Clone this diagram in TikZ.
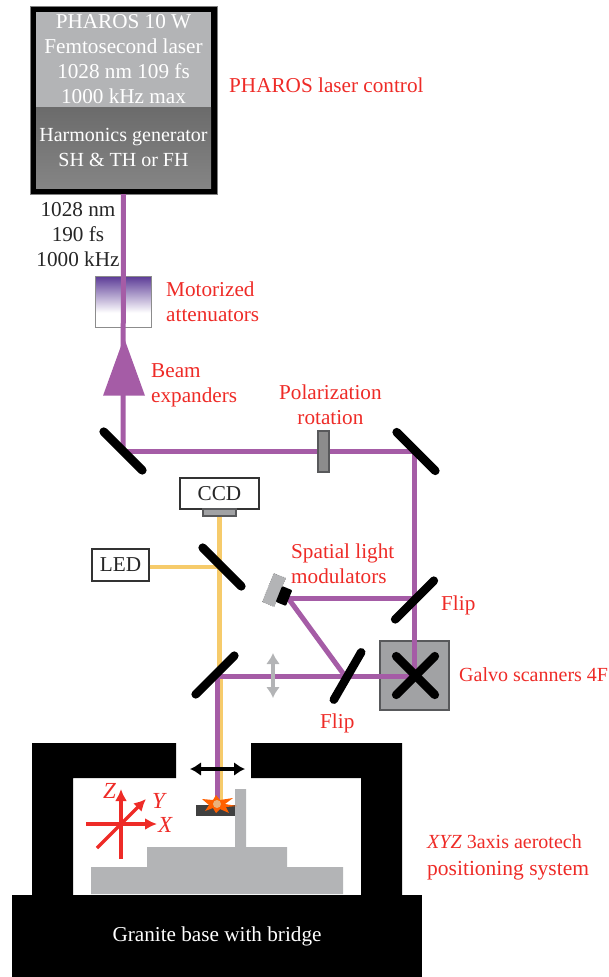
\documentclass[tikz,border=0pt]{standalone}
\usepackage{fontspec}
\setmainfont{Liberation Serif}
\usetikzlibrary{positioning, arrows.meta, shapes.geometric}
\definecolor{beampurple}{HTML}{A55CA6}
\definecolor{beamyellow}{HTML}{F6CB6B}
\definecolor{labelred}{HTML}{EE2B27}
\definecolor{stagegray}{HTML}{B3B4B6}
\definecolor{framegray}{HTML}{58595B}
\definecolor{attenpurple}{HTML}{5B3A96}
\pgfdeclareverticalshading{attenfade}{100bp}{color(0bp)=(white); color(39bp)=(white); color(75bp)=(attenpurple); color(100bp)=(attenpurple)}

\begin{document}
\begin{tikzpicture}[x=1pt, y=-1pt,
    every node/.style={font=\fontsize{21.2}{25}\selectfont, inner sep=0pt, text=black!85},
    lbl/.style={text=labelred, align=left, anchor=west},
    mirror/.style={rectangle, fill=black, rounded corners=4pt, minimum width=63, minimum height=8.5},
    beam/.style={draw=beampurple, line width=5pt},
    led/.style={draw=beamyellow, line width=4.5pt},
    box/.style={rectangle, draw=black!80, line width=1.2pt, fill=white, align=center},
    part/.style={rectangle, draw=framegray, line width=1.2pt, fill=stagegray!90!black},
    stage/.style={fill=stagegray},
    base/.style={fill=black},
    axis/.style={draw=labelred, line width=3.5pt, -{Latex[length=12pt, width=12pt]}},
    slide/.style={{Latex[length=11pt, width=14pt]}-{Latex[length=11pt, width=14pt]}, line width=3.5pt}]

  \useasboundingbox (0,0) rectangle (609,977);

  % stage and bridge
  \path[base] (32,743) -- (176,743) -- (176,778) -- (73,778) -- (73,895) -- (32,895) -- cycle;
  \path[base] (402,743) -- (251,743) -- (251,778) -- (361,778) -- (361,895) -- (402,895) -- cycle;
  \node[rectangle, fill=black, minimum width=410, minimum height=82, text=white] (granite) at (217,936) {Granite base with bridge};
  \path[stage] (91,894) -- (91,867) -- (147,867) -- (147,847) -- (235,847) -- (235,789) -- (246,789) -- (246,847) -- (287,847) -- (287,867) -- (343,867) -- (343,894) -- cycle;
  \node[rectangle, fill=black!75, minimum width=39, minimum height=11] (sample) at (215.5,810.5) {};

  % laser head
  \node[rectangle, fill=black, draw=black!50, minimum width=187, minimum height=188] (laser) at (123.5,100) {};
  \node[rectangle, fill=stagegray, minimum width=175, minimum height=95, text=white, align=center] (pharos) at (123.5,59.5) {PHAROS 10 W\\Femtosecond laser\\1028 nm 109 fs\\1000 kHz max};
  \node[rectangle, top color=black!58, bottom color=black!48, minimum width=175, minimum height=81, text=white, align=center, font=\fontsize{20}{25}\selectfont] (harm) at (123.5,147.5) {Harmonics generator\\SH \& TH or FH};

  \node[align=center] (pulse) at (78,235) {1028 nm\\190 fs\\1000 kHz};
  \node[rectangle, draw=black!45, line width=0.8pt, shading=attenfade, minimum width=56, minimum height=51] (atten) at (123,301.5) {};

  % optical path points
  \coordinate (m1) at (123,451);
  \coordinate (m2) at (414,451);
  \coordinate (flipa) at (414,598);
  \coordinate (galvoc) at (414,676);
  \coordinate (flipb) at (345,676);
  \coordinate (m3) at (217,676);
  \coordinate (m4) at (220,567);
  \coordinate (slmc) at (288,598);
  \coordinate (focus) at (217,803);
  \coordinate (focusb) at (221,803);

  \node[part, minimum width=69, minimum height=69] (galvo) at (414.5,675.5) {};
  \node[box, minimum width=79, minimum height=31] (ccd) at (219.5,493.5) {CCD};
  \node[part, minimum width=33, minimum height=7] (sensor) at (219.5,512.5) {};
  \node[box, minimum width=57, minimum height=32] (ledbox) at (120.5,565) {LED};

  % yellow path
  \draw[led] (sensor.south) -- (m3 -| sensor.south);
  \draw[led, line width=3pt] (m3 -| focusb) -- (focusb);
  \draw[led] (ledbox.east |- m4) -- (m4);

  % purple path
  \draw[beam] (laser.south) -- (m1);
  \draw[beam] (m1) -- (m2);
  \draw[beam] (m2) -- (galvoc);
  \draw[beam] (flipa) -- (slmc);
  \draw[beam] (slmc) -- (flipb);
  \draw[beam] (galvoc) -- (m3);
  \draw[beam] (m3) -- (focus);

  \node[isosceles triangle, isosceles triangle stretches, shape border rotate=90, fill=beampurple, minimum width=42, minimum height=58] (expander) at (124,381) {};
  \node[part, fill=black!45, minimum width=11, minimum height=41] (waveplate) at (323.5,451.5) {};

  \node[mirror, rotate=-45] (mirrora) at (m1) {};
  \node[mirror, rotate=-45] (mirrorb) at (416,451.5) {};
  \node[mirror, rotate=45] (mirrorc) at (414.5,600) {};
  \node[mirror, rotate=-45] (mirrord) at (222,567) {};
  \node[mirror, rotate=45] (mirrore) at (215,675) {};
  \node[mirror, rotate=60] (mirrorf) at (347.5,676) {};
  \node[mirror, rotate=45] (galvoa) at (415.5,675.5) {};
  \node[mirror, rotate=-45] (galvob) at (415.5,675.5) {};

  \node[rectangle, draw=black!70, dotted, fill=stagegray, minimum width=13, minimum height=31, rotate=-22] (slm) at (274,590) {};
  \node[rectangle, fill=black, rounded corners=1pt, minimum width=11, minimum height=17, rotate=-22] (slmfront) at (284,596) {};

  % spark on the sample
  \fill[orange!75!red] (202,799) -- (213,800) -- (216,795) -- (220,800) -- (233,798) -- (225,804) -- (237,806) -- (226,807) -- (229,813) -- (220,809) -- (216,813) -- (213,808) -- (205,811) -- (209,805) -- cycle;
  \node[circle, fill=orange!45!brown!60!white, minimum size=8] (spot) at (217,804) {};

  % moving parts
  \coordinate (slidel) at (190,769);
  \coordinate (slider) at (245,769);
  \draw[slide] (slidel) -- (slider);
  \coordinate (gslidet) at (273,653);
  \coordinate (gslideb) at (273,698);
  \draw[slide, draw=stagegray, line width=4.5pt] (gslidet) -- (gslideb);

  % axes
  \coordinate (xa) at (86,824);
  \coordinate (xb) at (157,824);
  \coordinate (za) at (121,859);
  \coordinate (zb) at (121,789);
  \coordinate (ya) at (97,848);
  \coordinate (yb) at (146,799);
  \draw[axis] (xa) -- (xb);
  \draw[axis] (za) -- (zb);
  \draw[axis] (ya) -- (yb);
  \node[lbl, font=\fontsize{23}{25}\selectfont\itshape] (xlbl) at (158,825) {X};
  \node[lbl, font=\fontsize{23}{25}\selectfont\itshape] (ylbl) at (152,801) {Y};
  \node[lbl, font=\fontsize{23}{25}\selectfont\itshape] (zlbl) at (103,791) {Z};

  % labels
  \node[lbl] (laserlbl) at (229,85) {PHAROS laser control};
  \node[lbl] (attenlbl) at (166,302) {Motorized\\attenuators};
  \node[lbl] (explbl) at (151,385.5) {Beam\\expanders};
  \node[lbl, align=center] (pollbl) at (279,405) {Polarization\\rotation};
  \node[lbl] (slmlbl) at (291,564) {Spatial light\\modulators};
  \node[lbl] (flipalbl) at (441,605) {Flip};
  \node[lbl] (flipblbl) at (320,723) {Flip};
  \node[lbl, font=\fontsize{20}{25}\selectfont] (galvolbl) at (459,675) {Galvo scanners 4F};
  \node[lbl, font=\fontsize{20}{27}\selectfont] (stagelbl) at (427,857) {\textit{XYZ} 3axis aerotech\\\fontsize{21.5}{27}\selectfont positioning system};
\end{tikzpicture}
\end{document}
